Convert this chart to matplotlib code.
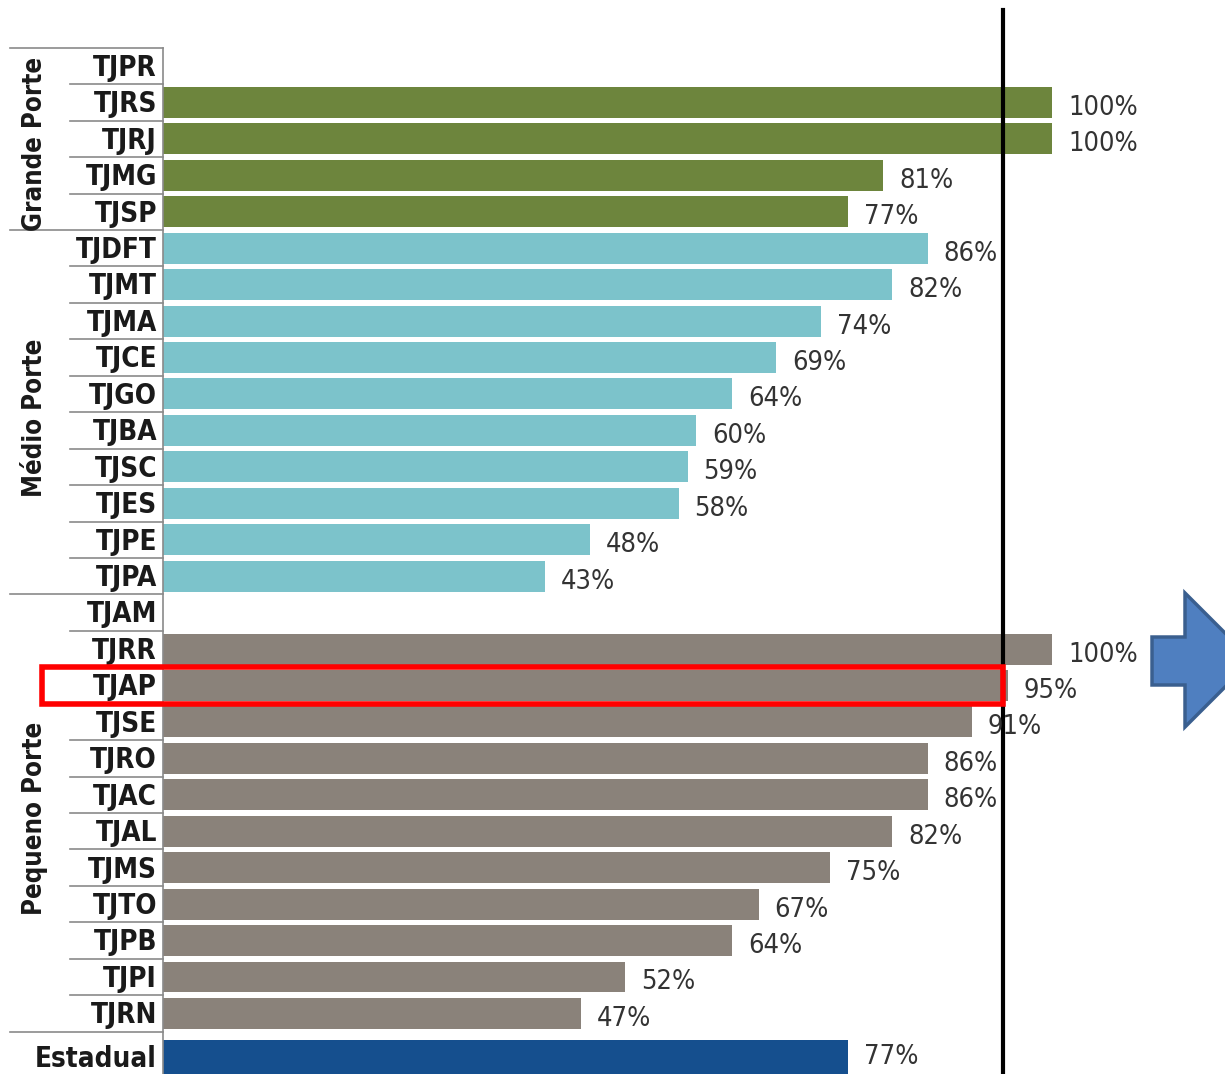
import matplotlib.pyplot as plt
from matplotlib.patches import Rectangle, Polygon
from matplotlib import font_manager as fm
import numpy as np

# data
tribunais = ['TJPR', 'TJRS', 'TJRJ', 'TJMG', 'TJSP',
             'TJDFT', 'TJMT', 'TJMA', 'TJCE', 'TJGO', 'TJBA', 'TJSC', 'TJES', 'TJPE', 'TJPA',
             'TJAM', 'TJRR', 'TJAP', 'TJSE', 'TJRO', 'TJAC', 'TJAL', 'TJMS', 'TJTO', 'TJPB', 'TJPI', 'TJRN']
valores = [None, 100, 100, 81, 77,
           86, 82, 74, 69, 64, 60, 59, 58, 48, 43,
           None, 100, 95, 91, 86, 86, 82, 75, 67, 64, 52, 47]
grupos = ['Grande Porte', 'Médio Porte', 'Pequeno Porte']
grupo_n = [5, 10, 12]
grupo_cores = ['#6d853d', '#7cc3cb', '#8a827a']
estadual_label = 'Estadual'
estadual_valor = 77
estadual_cor = '#154f8e'
destaque = 'TJAP'

# pick a narrow font if one is around
cond = fm.findfont(fm.FontProperties(family='DejaVu Sans', stretch='condensed'))
if 'Condensed' in cond:
    fam, stretch = ['DejaVu Sans'], 'condensed'
    fs_tick, fs_pct, fs_grp = 20, 19.5, 18.5
else:
    fam, stretch = ['Roboto', 'DejaVu Sans'], 'normal'
    fs_tick, fs_pct, fs_grp = 18, 19, 17.5
plt.rcParams['font.family'] = fam
plt.rcParams['font.stretch'] = stretch

W, H = 1225, 1074
fig = plt.figure(figsize=(W / 100, H / 100), dpi=100)
ax_left = 163 / W
ax = fig.add_axes([ax_left, 0, 1 - ax_left, 1])
px_per_pct = 8.89
ax.set_xlim(0, (W - 163) / px_per_pct)
row_h = 36.44
y0 = 66
ax.set_ylim((H - y0) / row_h, -y0 / row_h)
for s in ax.spines.values():
    s.set_visible(False)
ax.set_xticks([])
ax.set_yticks([])

cores = []
for c, n in zip(grupo_cores, grupo_n):
    cores += [c] * n

ypos = np.arange(len(tribunais))
for y, v, c in zip(ypos, valores, cores):
    if v is None:
        continue
    ax.barh(y, v, height=0.85, color=c, zorder=2)
    ax.text(v + 1.8, y + 0.15, f'{v}%', va='center', ha='left', fontsize=fs_pct,
            color='#333333', stretch=stretch, zorder=4)

y_est = len(tribunais) + 0.2
ax.barh(y_est, estadual_valor, height=0.95, color=estadual_cor, zorder=2)
ax.text(estadual_valor + 1.8, y_est, f'{estadual_valor}%', va='center', ha='left',
        fontsize=fs_pct, color='#333333', stretch=stretch, zorder=4)

# tick labels
lab_x = -6 / px_per_pct
for y, t in zip(ypos, tribunais):
    ax.text(lab_x, y + 0.05, t, ha='right', va='center', fontsize=fs_tick,
            fontweight='bold', stretch=stretch, color='#1a1a1a', clip_on=False)
ax.text(lab_x, y_est + 0.05, estadual_label, ha='right', va='center', fontsize=fs_tick,
        fontweight='bold', stretch=stretch, color='#1a1a1a', clip_on=False)

# separator lines
x_full = (10 - 163) / px_per_pct
x_short = (70 - 163) / px_per_pct
bounds = np.cumsum([0] + grupo_n) - 0.5
for i in range(len(tribunais)):
    b = i - 0.5
    xs = x_full if b in bounds else x_short
    ax.plot([xs, 0], [b, b], color='#8a8a8a', lw=1.2, clip_on=False)
ax.plot([x_full, 0], [bounds[-1], bounds[-1]], color='#8a8a8a', lw=1.2, clip_on=False)
ax.plot([0, 0], [-0.5, 30], color='#8a8a8a', lw=1.2, clip_on=False)

# group labels
for g, a, b in zip(grupos, bounds[:-1], bounds[1:]):
    ax.text((35 - 163) / px_per_pct, (a + b) / 2 + 0.15, g, rotation=90, ha='center',
            va='center', fontsize=fs_grp, fontweight='bold', stretch=stretch,
            color='#1a1a1a', clip_on=False)

# reference line at TJAP
v_ref = valores[tribunais.index(destaque)] - 0.5
ax.axvline(v_ref, ymin=0, ymax=1 - 10 / H, color='black', lw=3, zorder=3)

# highlight box
iy = tribunais.index(destaque)
ax.add_patch(Rectangle(((42 - 163) / px_per_pct, iy - 0.5), v_ref - (42 - 163) / px_per_pct, 1.0,
                       fill=False, edgecolor='#ff0000', lw=4, zorder=5, clip_on=False))

# arrow at the right edge
pts = [(1152, 637), (1185, 637), (1185, 593), (1252, 660), (1185, 727), (1185, 685), (1152, 685)]
fig.patches.append(Polygon([(x / W, 1 - y / H) for x, y in pts], closed=True,
                           transform=fig.transFigure, facecolor='#4f7fc0',
                           edgecolor='#3a5f8f', lw=2.5))

fig.savefig('out.png', dpi=100)
